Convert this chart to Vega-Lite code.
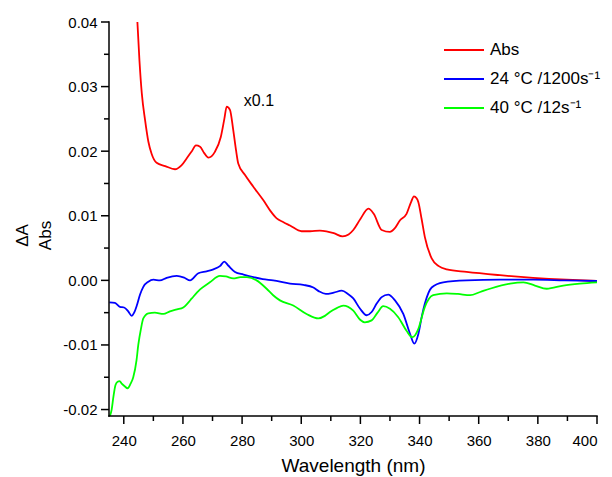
{
  "$schema": "https://vega.github.io/schema/vega-lite/v6.json",
  "autosize": {"type": "none"},
  "width": 488,
  "height": 394,
  "padding": {"left": 109, "top": 22, "right": 15, "bottom": 61},
  "background": "white",
  "config": {
    "view": {"stroke": null},
    "font": "Liberation Sans",
    "axis": {"grid": false, "domain": false, "ticks": false, "tickSize": 0, "labelColor": "black", "titleColor": "black", "labelFont": "Liberation Sans", "titleFont": "Liberation Sans", "titleFontWeight": "normal", "labelFontSize": 15, "titleFontSize": 19},
    "legend": {"labelFont": "Liberation Sans", "labelFontSize": 17, "labelColor": "black"}
  },
  "datasets": {
    "curves": [
      {"s": "Abs", "x": 244.6, "y": 0.0400},
      {"s": "Abs", "x": 245.3, "y": 0.0340},
      {"s": "Abs", "x": 246.1, "y": 0.0289},
      {"s": "Abs", "x": 247.2, "y": 0.0248},
      {"s": "Abs", "x": 248.3, "y": 0.0215},
      {"s": "Abs", "x": 249.4, "y": 0.0196},
      {"s": "Abs", "x": 251.1, "y": 0.0182},
      {"s": "Abs", "x": 254.0, "y": 0.0177},
      {"s": "Abs", "x": 257.3, "y": 0.0172},
      {"s": "Abs", "x": 259.5, "y": 0.0178},
      {"s": "Abs", "x": 261.3, "y": 0.0189},
      {"s": "Abs", "x": 263.0, "y": 0.0200},
      {"s": "Abs", "x": 264.4, "y": 0.0209},
      {"s": "Abs", "x": 265.8, "y": 0.0207},
      {"s": "Abs", "x": 267.2, "y": 0.0197},
      {"s": "Abs", "x": 268.6, "y": 0.0190},
      {"s": "Abs", "x": 270.8, "y": 0.0199},
      {"s": "Abs", "x": 272.8, "y": 0.0222},
      {"s": "Abs", "x": 274.0, "y": 0.0250},
      {"s": "Abs", "x": 274.8, "y": 0.0269},
      {"s": "Abs", "x": 275.9, "y": 0.0264},
      {"s": "Abs", "x": 277.0, "y": 0.0233},
      {"s": "Abs", "x": 278.0, "y": 0.0200},
      {"s": "Abs", "x": 278.7, "y": 0.0181},
      {"s": "Abs", "x": 281.0, "y": 0.0163},
      {"s": "Abs", "x": 283.8, "y": 0.0145},
      {"s": "Abs", "x": 287.2, "y": 0.0124},
      {"s": "Abs", "x": 289.5, "y": 0.0108},
      {"s": "Abs", "x": 291.7, "y": 0.0096},
      {"s": "Abs", "x": 294.0, "y": 0.0090},
      {"s": "Abs", "x": 296.2, "y": 0.0085},
      {"s": "Abs", "x": 300.1, "y": 0.0076},
      {"s": "Abs", "x": 303.0, "y": 0.0076},
      {"s": "Abs", "x": 306.3, "y": 0.0077},
      {"s": "Abs", "x": 308.5, "y": 0.0076},
      {"s": "Abs", "x": 311.0, "y": 0.0073},
      {"s": "Abs", "x": 314.0, "y": 0.0068},
      {"s": "Abs", "x": 316.0, "y": 0.0071},
      {"s": "Abs", "x": 317.6, "y": 0.0078},
      {"s": "Abs", "x": 320.0, "y": 0.0095},
      {"s": "Abs", "x": 322.7, "y": 0.0111},
      {"s": "Abs", "x": 324.5, "y": 0.0103},
      {"s": "Abs", "x": 327.2, "y": 0.0078},
      {"s": "Abs", "x": 330.0, "y": 0.0075},
      {"s": "Abs", "x": 331.5, "y": 0.0080},
      {"s": "Abs", "x": 333.4, "y": 0.0093},
      {"s": "Abs", "x": 335.6, "y": 0.0103},
      {"s": "Abs", "x": 337.2, "y": 0.0122},
      {"s": "Abs", "x": 338.1, "y": 0.0130},
      {"s": "Abs", "x": 339.0, "y": 0.0127},
      {"s": "Abs", "x": 339.6, "y": 0.0121},
      {"s": "Abs", "x": 340.7, "y": 0.0095},
      {"s": "Abs", "x": 341.8, "y": 0.0067},
      {"s": "Abs", "x": 344.1, "y": 0.0034},
      {"s": "Abs", "x": 346.5, "y": 0.0022},
      {"s": "Abs", "x": 349.2, "y": 0.0017},
      {"s": "Abs", "x": 355.9, "y": 0.0013},
      {"s": "Abs", "x": 367.2, "y": 0.0008},
      {"s": "Abs", "x": 378.4, "y": 0.0004},
      {"s": "Abs", "x": 389.7, "y": 0.0001},
      {"s": "Abs", "x": 400.0, "y": -0.0001},
      {"s": "24 °C /1200s⁻¹", "x": 235.1, "y": -0.0034},
      {"s": "24 °C /1200s⁻¹", "x": 237.0, "y": -0.0035},
      {"s": "24 °C /1200s⁻¹", "x": 238.7, "y": -0.0041},
      {"s": "24 °C /1200s⁻¹", "x": 240.1, "y": -0.0042},
      {"s": "24 °C /1200s⁻¹", "x": 241.5, "y": -0.0048},
      {"s": "24 °C /1200s⁻¹", "x": 242.7, "y": -0.0055},
      {"s": "24 °C /1200s⁻¹", "x": 243.5, "y": -0.0050},
      {"s": "24 °C /1200s⁻¹", "x": 244.4, "y": -0.0039},
      {"s": "24 °C /1200s⁻¹", "x": 245.5, "y": -0.0022},
      {"s": "24 °C /1200s⁻¹", "x": 246.6, "y": -0.0010},
      {"s": "24 °C /1200s⁻¹", "x": 248.3, "y": -0.0002},
      {"s": "24 °C /1200s⁻¹", "x": 250.0, "y": 0.0001},
      {"s": "24 °C /1200s⁻¹", "x": 252.2, "y": 0.0000},
      {"s": "24 °C /1200s⁻¹", "x": 254.5, "y": 0.0004},
      {"s": "24 °C /1200s⁻¹", "x": 257.9, "y": 0.0007},
      {"s": "24 °C /1200s⁻¹", "x": 260.5, "y": 0.0004},
      {"s": "24 °C /1200s⁻¹", "x": 262.4, "y": 0.0000},
      {"s": "24 °C /1200s⁻¹", "x": 265.2, "y": 0.0011},
      {"s": "24 °C /1200s⁻¹", "x": 268.0, "y": 0.0014},
      {"s": "24 °C /1200s⁻¹", "x": 270.3, "y": 0.0017},
      {"s": "24 °C /1200s⁻¹", "x": 272.5, "y": 0.0022},
      {"s": "24 °C /1200s⁻¹", "x": 274.0, "y": 0.0029},
      {"s": "24 °C /1200s⁻¹", "x": 275.3, "y": 0.0023},
      {"s": "24 °C /1200s⁻¹", "x": 277.6, "y": 0.0013},
      {"s": "24 °C /1200s⁻¹", "x": 280.5, "y": 0.0009},
      {"s": "24 °C /1200s⁻¹", "x": 283.8, "y": 0.0005},
      {"s": "24 °C /1200s⁻¹", "x": 287.0, "y": 0.0002},
      {"s": "24 °C /1200s⁻¹", "x": 290.5, "y": 0.0000},
      {"s": "24 °C /1200s⁻¹", "x": 296.2, "y": -0.0005},
      {"s": "24 °C /1200s⁻¹", "x": 300.7, "y": -0.0007},
      {"s": "24 °C /1200s⁻¹", "x": 304.1, "y": -0.0011},
      {"s": "24 °C /1200s⁻¹", "x": 306.0, "y": -0.0017},
      {"s": "24 °C /1200s⁻¹", "x": 308.3, "y": -0.0021},
      {"s": "24 °C /1200s⁻¹", "x": 311.0, "y": -0.0019},
      {"s": "24 °C /1200s⁻¹", "x": 313.7, "y": -0.0016},
      {"s": "24 °C /1200s⁻¹", "x": 315.8, "y": -0.0021},
      {"s": "24 °C /1200s⁻¹", "x": 317.6, "y": -0.0028},
      {"s": "24 °C /1200s⁻¹", "x": 319.9, "y": -0.0044},
      {"s": "24 °C /1200s⁻¹", "x": 322.1, "y": -0.0054},
      {"s": "24 °C /1200s⁻¹", "x": 323.8, "y": -0.0049},
      {"s": "24 °C /1200s⁻¹", "x": 325.5, "y": -0.0036},
      {"s": "24 °C /1200s⁻¹", "x": 327.2, "y": -0.0026},
      {"s": "24 °C /1200s⁻¹", "x": 329.4, "y": -0.0022},
      {"s": "24 °C /1200s⁻¹", "x": 331.7, "y": -0.0031},
      {"s": "24 °C /1200s⁻¹", "x": 334.5, "y": -0.0052},
      {"s": "24 °C /1200s⁻¹", "x": 336.8, "y": -0.0083},
      {"s": "24 °C /1200s⁻¹", "x": 338.2, "y": -0.0098},
      {"s": "24 °C /1200s⁻¹", "x": 339.6, "y": -0.0083},
      {"s": "24 °C /1200s⁻¹", "x": 340.8, "y": -0.0055},
      {"s": "24 °C /1200s⁻¹", "x": 341.8, "y": -0.0036},
      {"s": "24 °C /1200s⁻¹", "x": 344.1, "y": -0.0011},
      {"s": "24 °C /1200s⁻¹", "x": 348.0, "y": -0.0003},
      {"s": "24 °C /1200s⁻¹", "x": 355.9, "y": 0.0000},
      {"s": "24 °C /1200s⁻¹", "x": 367.2, "y": 0.0001},
      {"s": "24 °C /1200s⁻¹", "x": 378.4, "y": 0.0001},
      {"s": "24 °C /1200s⁻¹", "x": 389.0, "y": 0.0000},
      {"s": "24 °C /1200s⁻¹", "x": 400.0, "y": -0.0001},
      {"s": "40 °C /12s⁻¹", "x": 235.3, "y": -0.0210},
      {"s": "40 °C /12s⁻¹", "x": 235.9, "y": -0.0200},
      {"s": "40 °C /12s⁻¹", "x": 236.5, "y": -0.0180},
      {"s": "40 °C /12s⁻¹", "x": 237.2, "y": -0.0162},
      {"s": "40 °C /12s⁻¹", "x": 237.9, "y": -0.0157},
      {"s": "40 °C /12s⁻¹", "x": 238.6, "y": -0.0156},
      {"s": "40 °C /12s⁻¹", "x": 239.3, "y": -0.0160},
      {"s": "40 °C /12s⁻¹", "x": 240.3, "y": -0.0164},
      {"s": "40 °C /12s⁻¹", "x": 241.3, "y": -0.0167},
      {"s": "40 °C /12s⁻¹", "x": 242.3, "y": -0.0160},
      {"s": "40 °C /12s⁻¹", "x": 243.2, "y": -0.0150},
      {"s": "40 °C /12s⁻¹", "x": 244.3, "y": -0.0124},
      {"s": "40 °C /12s⁻¹", "x": 244.9, "y": -0.0100},
      {"s": "40 °C /12s⁻¹", "x": 245.8, "y": -0.0075},
      {"s": "40 °C /12s⁻¹", "x": 246.6, "y": -0.0059},
      {"s": "40 °C /12s⁻¹", "x": 248.3, "y": -0.0051},
      {"s": "40 °C /12s⁻¹", "x": 250.5, "y": -0.0050},
      {"s": "40 °C /12s⁻¹", "x": 253.4, "y": -0.0052},
      {"s": "40 °C /12s⁻¹", "x": 255.6, "y": -0.0048},
      {"s": "40 °C /12s⁻¹", "x": 258.0, "y": -0.0045},
      {"s": "40 °C /12s⁻¹", "x": 260.1, "y": -0.0042},
      {"s": "40 °C /12s⁻¹", "x": 261.5, "y": -0.0036},
      {"s": "40 °C /12s⁻¹", "x": 263.0, "y": -0.0028},
      {"s": "40 °C /12s⁻¹", "x": 265.8, "y": -0.0014},
      {"s": "40 °C /12s⁻¹", "x": 269.1, "y": -0.0003},
      {"s": "40 °C /12s⁻¹", "x": 272.5, "y": 0.0007},
      {"s": "40 °C /12s⁻¹", "x": 274.5, "y": 0.0006},
      {"s": "40 °C /12s⁻¹", "x": 277.0, "y": 0.0003},
      {"s": "40 °C /12s⁻¹", "x": 279.5, "y": 0.0005},
      {"s": "40 °C /12s⁻¹", "x": 281.6, "y": 0.0005},
      {"s": "40 °C /12s⁻¹", "x": 284.9, "y": 0.0000},
      {"s": "40 °C /12s⁻¹", "x": 288.3, "y": -0.0013},
      {"s": "40 °C /12s⁻¹", "x": 290.5, "y": -0.0023},
      {"s": "40 °C /12s⁻¹", "x": 292.8, "y": -0.0031},
      {"s": "40 °C /12s⁻¹", "x": 297.3, "y": -0.0039},
      {"s": "40 °C /12s⁻¹", "x": 301.8, "y": -0.0052},
      {"s": "40 °C /12s⁻¹", "x": 305.8, "y": -0.0059},
      {"s": "40 °C /12s⁻¹", "x": 308.0, "y": -0.0055},
      {"s": "40 °C /12s⁻¹", "x": 309.7, "y": -0.0049},
      {"s": "40 °C /12s⁻¹", "x": 312.0, "y": -0.0043},
      {"s": "40 °C /12s⁻¹", "x": 314.2, "y": -0.0039},
      {"s": "40 °C /12s⁻¹", "x": 317.6, "y": -0.0047},
      {"s": "40 °C /12s⁻¹", "x": 319.9, "y": -0.0061},
      {"s": "40 °C /12s⁻¹", "x": 321.5, "y": -0.0065},
      {"s": "40 °C /12s⁻¹", "x": 323.8, "y": -0.0062},
      {"s": "40 °C /12s⁻¹", "x": 325.8, "y": -0.0050},
      {"s": "40 °C /12s⁻¹", "x": 327.7, "y": -0.0040},
      {"s": "40 °C /12s⁻¹", "x": 330.0, "y": -0.0044},
      {"s": "40 °C /12s⁻¹", "x": 332.8, "y": -0.0057},
      {"s": "40 °C /12s⁻¹", "x": 335.6, "y": -0.0078},
      {"s": "40 °C /12s⁻¹", "x": 337.5, "y": -0.0088},
      {"s": "40 °C /12s⁻¹", "x": 338.5, "y": -0.0085},
      {"s": "40 °C /12s⁻¹", "x": 339.6, "y": -0.0075},
      {"s": "40 °C /12s⁻¹", "x": 341.8, "y": -0.0041},
      {"s": "40 °C /12s⁻¹", "x": 344.6, "y": -0.0023},
      {"s": "40 °C /12s⁻¹", "x": 349.2, "y": -0.0020},
      {"s": "40 °C /12s⁻¹", "x": 353.0, "y": -0.0021},
      {"s": "40 °C /12s⁻¹", "x": 357.1, "y": -0.0023},
      {"s": "40 °C /12s⁻¹", "x": 360.5, "y": -0.0018},
      {"s": "40 °C /12s⁻¹", "x": 363.8, "y": -0.0013},
      {"s": "40 °C /12s⁻¹", "x": 370.6, "y": -0.0005},
      {"s": "40 °C /12s⁻¹", "x": 375.1, "y": -0.0003},
      {"s": "40 °C /12s⁻¹", "x": 379.0, "y": -0.0008},
      {"s": "40 °C /12s⁻¹", "x": 383.0, "y": -0.0013},
      {"s": "40 °C /12s⁻¹", "x": 388.6, "y": -0.0008},
      {"s": "40 °C /12s⁻¹", "x": 394.2, "y": -0.0005},
      {"s": "40 °C /12s⁻¹", "x": 400.0, "y": -0.0003}
    ],
    "notes": [
      {"x": 280.6, "y": 0.0277, "t": "x0.1"}
    ],
    "xmajor": [{"v": 240}, {"v": 260}, {"v": 280}, {"v": 300}, {"v": 320}, {"v": 340}, {"v": 360}, {"v": 380}, {"v": 400}],
    "xminor": [{"v": 250}, {"v": 270}, {"v": 290}, {"v": 310}, {"v": 330}, {"v": 350}, {"v": 370}, {"v": 390}],
    "ymajor": [{"v": -0.02}, {"v": -0.01}, {"v": 0}, {"v": 0.01}, {"v": 0.02}, {"v": 0.03}, {"v": 0.04}],
    "yminor": [{"v": -0.015}, {"v": -0.005}, {"v": 0.005}, {"v": 0.015}, {"v": 0.025}, {"v": 0.035}]
  },
  "layer": [
    {
      "data": {"name": "curves"},
      "mark": {"type": "line", "strokeWidth": 1.8, "clip": true, "interpolate": "monotone"},
      "encoding": {
        "x": {
          "field": "x", "type": "quantitative",
          "scale": {"domain": [235, 400], "nice": false, "zero": false},
          "axis": {
            "title": "Wavelength (nm)",
            "values": [240, 260, 280, 300, 320, 340, 360, 380, 400],
            "labelPadding": 17,
            "titleY": 55,
            "titleBaseline": "alphabetic"
          }
        },
        "y": {
          "field": "y", "type": "quantitative",
          "scale": {"domain": [-0.021, 0.04], "nice": false, "zero": false},
          "axis": {
            "title": ["ΔA", "Abs"],
            "values": [-0.02, -0.01, 0, 0.01, 0.02, 0.03, 0.04],
            "labelExpr": "replace(format(datum.value, '.2f'), '−', '-')",
            "labelPadding": 12,
            "titleFontSize": 17,
            "titleAngle": -90,
            "titleBaseline": "top",
            "titleAlign": "center",
            "titleLineHeight": 23,
            "titleX": -95,
            "titleY": 213
          }
        },
        "color": {
          "field": "s", "type": "nominal",
          "scale": {"domain": ["Abs", "24 °C /1200s⁻¹", "40 °C /12s⁻¹"], "range": ["#ff0000", "#0000ff", "#00ff00"]},
          "legend": {
            "title": null,
            "orient": "none",
            "legendX": 334,
            "legendY": 7,
            "symbolType": "stroke",
            "symbolSize": 1600,
            "symbolStrokeWidth": 2,
            "labelOffset": 5,
            "rowPadding": -4,
            "padding": 0
          }
        }
      }
    },
    {
      "data": {"values": [{}]},
      "mark": {"type": "tick", "orient": "horizontal", "color": "black", "size": 489.5, "thickness": 1.5, "opacity": 1, "clip": false},
      "encoding": {
        "x": {"datum": 317.5, "type": "quantitative"},
        "y": {"datum": -0.021, "type": "quantitative"}
      }
    },
    {
      "data": {"values": [{}]},
      "mark": {"type": "tick", "orient": "vertical", "color": "black", "size": 395.5, "thickness": 1.5, "opacity": 1, "clip": false},
      "encoding": {
        "x": {"datum": 235, "type": "quantitative"},
        "y": {"datum": 0.0095, "type": "quantitative"}
      }
    },
    {
      "data": {"name": "xmajor"},
      "mark": {"type": "tick", "orient": "vertical", "color": "black", "size": 8, "thickness": 1.5, "yOffset": 4, "opacity": 1, "clip": false},
      "encoding": {
        "x": {"field": "v", "type": "quantitative"},
        "y": {"datum": -0.021, "type": "quantitative"}
      }
    },
    {
      "data": {"name": "xminor"},
      "mark": {"type": "tick", "orient": "vertical", "color": "black", "size": 5, "thickness": 1.5, "yOffset": 2.5, "opacity": 1, "clip": false},
      "encoding": {
        "x": {"field": "v", "type": "quantitative"},
        "y": {"datum": -0.021, "type": "quantitative"}
      }
    },
    {
      "data": {"name": "ymajor"},
      "mark": {"type": "tick", "orient": "horizontal", "color": "black", "size": 8, "thickness": 1.5, "xOffset": -4, "opacity": 1, "clip": false},
      "encoding": {
        "y": {"field": "v", "type": "quantitative"},
        "x": {"datum": 235, "type": "quantitative"}
      }
    },
    {
      "data": {"name": "yminor"},
      "mark": {"type": "tick", "orient": "horizontal", "color": "black", "size": 5, "thickness": 1.5, "xOffset": -2.5, "opacity": 1, "clip": false},
      "encoding": {
        "y": {"field": "v", "type": "quantitative"},
        "x": {"datum": 235, "type": "quantitative"}
      }
    },
    {
      "data": {"name": "notes"},
      "mark": {"type": "text", "align": "left", "baseline": "middle", "fontSize": 16, "font": "Liberation Sans", "color": "black"},
      "encoding": {
        "x": {"field": "x", "type": "quantitative"},
        "y": {"field": "y", "type": "quantitative"},
        "text": {"field": "t"}
      }
    }
  ]
}
